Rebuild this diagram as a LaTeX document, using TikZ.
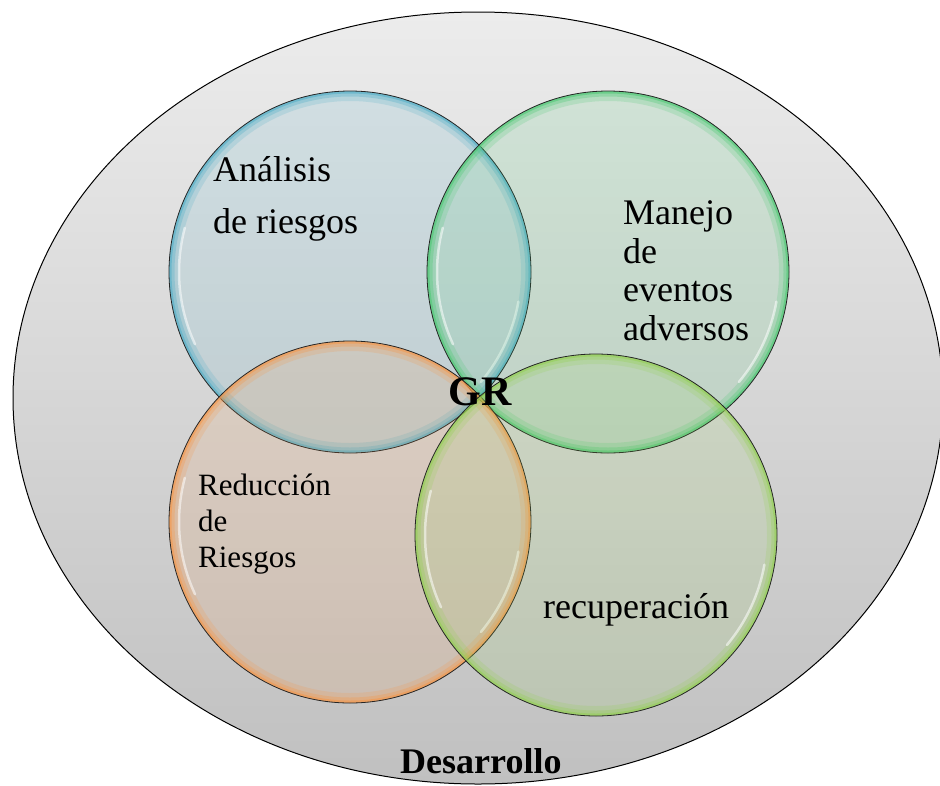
\documentclass[tikz,border=0pt]{standalone}
\usepackage{fontspec}
\setmainfont{Liberation Serif}
\usetikzlibrary{positioning}
\usetikzlibrary{shapes.geometric}

\definecolor{azulGR}{RGB}{75,172,198}
\definecolor{verdeGR}{RGB}{70,200,110}
\definecolor{naranjaGR}{RGB}{247,150,70}
\definecolor{limaGR}{RGB}{146,208,80}
\definecolor{grisclaro}{RGB}{236,236,236}
\definecolor{grisoscuro}{RGB}{192,192,192}

\tikzset{
  burbuja/.style={circle, draw=black!85, line width=0.8pt, inner sep=0pt, minimum size=362pt,
    fill=#1, fill opacity=0.14,
    path picture={
      \draw[#1, line width=20pt, opacity=0.2] (path picture bounding box.center) circle (181pt);
      \draw[#1, line width=11pt, opacity=0.3] (path picture bounding box.center) circle (181pt);
      \draw[#1, line width=5pt, opacity=0.5] (path picture bounding box.center) circle (181pt);
      \draw[white, line width=2.5pt, opacity=0.55, line cap=round] (path picture bounding box.center) ++(165:171pt) arc[start angle=165, end angle=205, radius=171pt];
      \draw[white, line width=2.5pt, opacity=0.55, line cap=round] (path picture bounding box.center) ++(-10:171pt) arc[start angle=-10, end angle=-40, radius=171pt];
    }},
  texto/.style={anchor=base west, inner sep=0pt, align=left, font=\fontsize{36}{38.5}\selectfont},
}

\begin{document}
\begin{tikzpicture}[x=1pt, y=-1pt]
  \useasboundingbox (0,0) rectangle (940,785);

  % Fondo
  \node[ellipse, draw=black, line width=1pt, top color=grisclaro, bottom color=grisoscuro,
        inner sep=0pt, minimum width=930pt, minimum height=772pt] (fondo) at (478,398) {};

  % Circulos
  \node[burbuja=azulGR] (c1) at (350,272) {};
  \node[burbuja=verdeGR] (c2) at (608,272) {};
  \node[burbuja=naranjaGR] (c3) at (350,522) {};
  \node[burbuja=limaGR] (c4) at (596,535) {};

  % Textos (base = ultima linea)
  \node[texto, font=\fontsize{36}{52}\selectfont] (analisis) at (213,233) {Análisis\\de riesgos};
  \node[texto] (manejo) at (623,340) {Manejo\\de\\eventos\\adversos};
  \node[texto, font=\fontsize{31}{36}\selectfont] (reduccion) at (198,567) {Reducción\\de\\Riesgos};
  \node[texto] (recuperacion) at (543,618) {recuperación};
  \node[texto, font=\fontsize{36}{38}\selectfont\bfseries] (desarrollo) at (400,773) {Desarrollo};
  \node[anchor=base, inner sep=0pt, font=\fontsize{42}{44}\selectfont\bfseries] (gr) at (480,405) {GR};
\end{tikzpicture}
\end{document}
